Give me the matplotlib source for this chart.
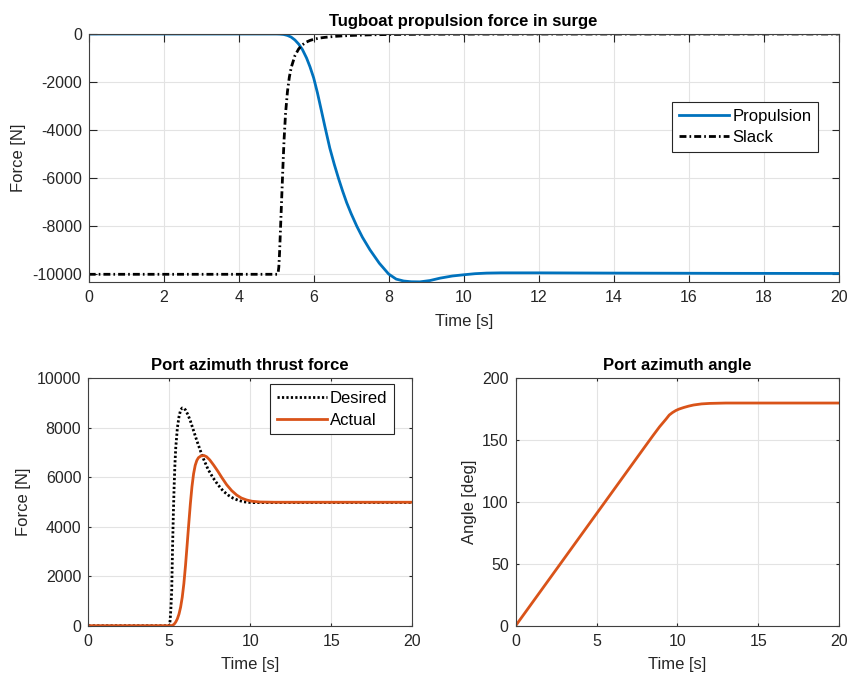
import matplotlib
matplotlib.use("Agg")
import matplotlib.pyplot as plt

plt.rcParams['font.family'] = ['Liberation Sans', 'DejaVu Sans']
plt.rcParams['axes.unicode_minus'] = False

# Tugboat propulsion force in surge
t_prop = [0, 5.0, 5.1, 5.2, 5.3, 5.4, 5.5, 5.6, 5.7, 5.81, 5.9, 6.0, 6.1, 6.2, 6.3,
          6.43, 6.55, 6.66, 6.77, 6.88, 7.0, 7.15, 7.3, 7.5, 7.75, 8.0, 8.2, 8.4,
          8.6, 8.83, 9.1, 9.37, 9.7, 10.0, 10.3, 10.61, 11.0, 12.0, 14.0, 17.0, 20.0]
f_prop = [0, 0, -5, -20, -60, -130, -250, -420, -650, -1000, -1360, -1830, -2450, -3150, -3860,
          -4750, -5430, -6000, -6530, -7020, -7480, -8000, -8460, -8980, -9540, -9990, -10200, -10280,
          -10310, -10315, -10260, -10160, -10070, -10020, -9975, -9950, -9940, -9940, -9950, -9960, -9965]

t_slack = [0, 5.03, 5.05, 5.07, 5.09, 5.12, 5.15, 5.18, 5.21, 5.25, 5.30, 5.35, 5.40,
           5.50, 5.60, 5.70, 5.80, 5.90, 6.0, 6.15, 6.3, 6.6, 7.0, 7.5, 8.0, 9.0, 10.0, 12.0, 20.0]
f_slack = [-10000, -10000, -9950, -9700, -9100, -7900, -6700, -5500, -4400, -3300, -2400, -1800, -1400,
           -900, -620, -450, -340, -270, -220, -170, -140, -95, -60, -35, -22, -10, -5, -2, 0]

# Port azimuth thrust force
t_des = [0, 5.0, 5.05, 5.1, 5.15, 5.2, 5.25, 5.3, 5.35, 5.4, 5.5, 5.6, 5.7, 5.8, 5.9, 6.0,
         6.15, 6.3, 6.5, 6.7, 6.9, 7.1, 7.4, 7.7, 8.0, 8.33, 8.65, 8.95, 9.25, 9.57, 9.9,
         10.2, 11.0, 20.0]
f_des = [0, 0, 200, 700, 1440, 3100, 4500, 5650, 6550, 7200, 8000, 8450, 8720, 8800, 8790, 8720,
         8530, 8280, 7880, 7480, 7110, 6760, 6310, 5980, 5700, 5440, 5270, 5150, 5070, 5010, 4985,
         4975, 4975, 4980]

t_act = [0, 5.1, 5.2, 5.3, 5.4, 5.5, 5.6, 5.7, 5.8, 5.9, 6.0, 6.1, 6.2, 6.3, 6.4, 6.5,
         6.6, 6.7, 6.8, 6.95, 7.14, 7.3, 7.5, 7.75, 8.0, 8.25, 8.54, 8.85, 9.16, 9.45,
         9.78, 10.1, 10.6, 11.5, 20.0]
f_act = [0, 0, 15, 60, 150, 280, 470, 750, 1150, 1700, 2420, 3250, 4100, 4920, 5620, 6140,
         6480, 6680, 6790, 6860, 6880, 6830, 6700, 6480, 6240, 5980, 5700, 5460, 5280, 5160,
         5080, 5030, 5000, 4990, 4990]

# Port azimuth angle
t_ang = [0, 8.0, 8.5, 8.9, 9.1, 9.3, 9.5, 9.7, 9.9, 10.1, 10.4, 10.7, 11.0, 11.5, 12.0, 13.0, 20.0]
a_ang = [0, 144.8, 153.8, 160.8, 163.9, 167.0, 170.3, 172.3, 173.9, 175.1, 176.4, 177.5, 178.4,
         179.3, 179.7, 180, 180]

BLUE = '#0072BD'
ORANGE = '#D95319'
AXC = '#262626'


def style(ax, ticklen):
    ax.grid(True, color='#e3e3e3', linewidth=0.8)
    ax.set_axisbelow(True)
    for s in ax.spines.values():
        s.set_color('#404040')
        s.set_linewidth(0.8)
    ax.tick_params(direction='in', top=True, right=True, length=ticklen, width=0.8,
                   colors=AXC, labelsize=11.5)
    ax.tick_params(axis='x', pad=6)
    ax.tick_params(axis='y', pad=5)


def legend(ax, anchor):
    leg = ax.legend(loc='upper left', bbox_to_anchor=anchor, borderaxespad=0,
                    fontsize=12, handlelength=3, fancybox=False, framealpha=1,
                    borderpad=0.4, labelspacing=0.4, handletextpad=0.2)
    leg.get_frame().set_edgecolor(AXC)
    leg.get_frame().set_linewidth(0.8)


fig = plt.figure(figsize=(8.48, 6.73), dpi=100)

ax1 = fig.add_axes([0.1046, 0.5810, 0.8844, 0.3685])
ax1.plot(t_prop, f_prop, color=BLUE, lw=2, label='Propulsion')
ax1.plot(t_slack, f_slack, color='black', lw=2, dashes=(2.5, 1.1, 0.6, 1.1), label='Slack')
ax1.set_xlim(0, 20)
ax1.set_ylim(-10320, 0)
ax1.set_xticks(range(0, 21, 2))
ax1.set_yticks(range(-10000, 1, 2000))
style(ax1, 5.4)
ax1.set_title('Tugboat propulsion force in surge', fontsize=12, fontweight='bold', pad=6)
ax1.set_xlabel('Time [s]', fontsize=12, color=AXC, labelpad=6)
ax1.set_ylabel('Force [N]', fontsize=12, color=AXC)
legend(ax1, (0.778, 0.726))

ax2 = fig.add_axes([0.1041, 0.0703, 0.3821, 0.3676])
ax2.plot(t_des, f_des, color='black', lw=2, linestyle=(0, (0.8, 0.8)), label='Desired')
ax2.plot(t_act, f_act, color=ORANGE, lw=2, label='Actual')
ax2.set_xlim(0, 20)
ax2.set_ylim(0, 10000)
ax2.set_xticks(range(0, 21, 5))
ax2.set_yticks(range(0, 10001, 2000))
style(ax2, 2.4)
ax2.set_title('Port azimuth thrust force', fontsize=12, fontweight='bold', pad=6)
ax2.set_xlabel('Time [s]', fontsize=12, color=AXC, labelpad=6)
ax2.set_ylabel('Force [N]', fontsize=12, color=AXC)
legend(ax2, (0.561, 0.976))

ax3 = fig.add_axes([0.6081, 0.0703, 0.3813, 0.3676])
ax3.plot(t_ang, a_ang, color=ORANGE, lw=2)
ax3.set_xlim(0, 20)
ax3.set_ylim(0, 200)
ax3.set_xticks(range(0, 21, 5))
ax3.set_yticks(range(0, 201, 50))
style(ax3, 2.4)
ax3.set_title('Port azimuth angle', fontsize=12, fontweight='bold', pad=6)
ax3.set_xlabel('Time [s]', fontsize=12, color=AXC, labelpad=6)
ax3.set_ylabel('Angle [deg]', fontsize=12, color=AXC)

fig.savefig('out.png', dpi=100, facecolor='white')
